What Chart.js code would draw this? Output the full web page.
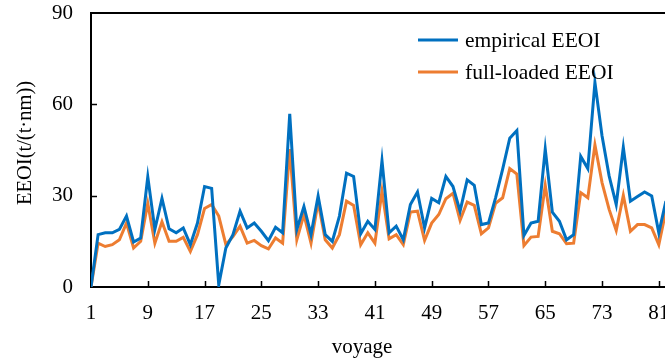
<!DOCTYPE html>
<html>
<head>
<meta charset="utf-8">
<script src="https://cdn.jsdelivr.net/npm/chart.js@4"></script>
<style>
  html, body { margin: 0; padding: 0; background: #fff; overflow: hidden; }
  #wrap { position: absolute; left: 0; top: 0; width: 680px; height: 363px; }
</style>
</head>
<body>
<div id="wrap"><canvas id="eeoiChart"></canvas></div>
<script>
const voyages = Array.from({ length: 82 }, (_, i) => i + 1);
const xTicks = [1, 9, 17, 25, 33, 41, 49, 57, 65, 73, 81];
const yTicks = [0, 30, 60, 90];

const empirical = [
  0, 17.2, 17.8, 17.8, 18.9, 23.3, 14.8, 16.1, 36.2, 18.9,
  29.1, 19.1, 17.8, 19.4, 13.9, 21, 33, 32.4, 0.7, 12.8,
  17.2, 24.9, 19.4, 21, 18.3, 15.2, 19.6, 17.8, 56.9, 18.9,
  26.4, 17.2, 29.9, 17.2, 15, 23.3, 37.4, 36.3, 17.5, 21.6,
  18.9, 41.5, 17.8, 20, 15.5, 27.1, 31.2, 19.4, 29.1, 27.7,
  36.3, 33, 24.9, 35.2, 33.4, 20.5, 21, 29.3, 38.7, 48.9,
  51.4, 16.9, 21, 21.6, 45.3, 24.6, 21.6, 15.5, 17.2, 42.9,
  38.9, 67.2, 49.7, 36.5, 27.1, 45.9, 28.2, 29.7, 31.2, 29.9,
  17.8, 28.2
];
const fullLoaded = [
  0, 14.4, 13.3, 13.9, 15.5, 21, 12.8, 15, 27.5, 14.4,
  21.4, 15, 15, 16.3, 11.7, 17.2, 25.8, 27.1, 23.3, 13.9,
  16.6, 20, 14.4, 15.3, 13.6, 12.5, 16.1, 14.4, 45.3, 15.5,
  23.8, 14.4, 27.9, 15.5, 12.8, 17.2, 28.2, 26.8, 13.9, 17.8,
  14.4, 31.5, 15.8, 17.2, 13.9, 24.6, 24.9, 15.3, 21, 23.8,
  29, 30.8, 21.9, 27.9, 26.8, 17.5, 19.4, 27.5, 29.3, 38.9,
  37.1, 13.6, 16.4, 16.6, 33.4, 18.3, 17.5, 14.2, 14.4, 31,
  29.3, 46.7, 34.3, 25.5, 18.6, 30.1, 18.3, 20.5, 20.5, 19.4,
  13.9, 25
];

const FONT = "'Liberation Serif', 'Times New Roman', serif";
const BLUE = "#0070C0";
const ORANGE = "#ED7D31";

// inward ticks, top border, legend and axis titles
const decor = {
  id: "decor",
  afterDraw(chart) {
    const c = chart.ctx;
    const a = chart.chartArea;
    const x = chart.scales.x, y = chart.scales.y;
    c.save();
    c.strokeStyle = "#000";
    c.lineWidth = 2;
    c.beginPath();
    c.moveTo(a.left - 1, a.top);
    c.lineTo(chart.width, a.top);
    c.stroke();

    c.lineWidth = 1.5;
    c.beginPath();
    yTicks.slice(1, -1).forEach(v => {
      const py = Math.round(y.getPixelForValue(v)) + 0.5;
      c.moveTo(a.left, py);
      c.lineTo(a.left + 6, py);
    });
    xTicks.slice(1).forEach(v => {
      const px = Math.round(x.getPixelForValue(v)) + 0.5;
      c.moveTo(px, a.bottom);
      c.lineTo(px, a.bottom - 6);
    });
    c.stroke();

    // legend
    c.font = "21.5px " + FONT;
    c.textBaseline = "middle";
    c.fillStyle = "#000";
    chart.data.datasets.forEach((ds, i) => {
      const ly = 40 + i * 32;
      c.strokeStyle = ds.borderColor;
      c.lineWidth = 3;
      c.beginPath();
      c.moveTo(418, ly);
      c.lineTo(458, ly);
      c.stroke();
      c.fillText(ds.label, 465, ly + 1);
    });

    // axis titles
    c.textAlign = "center";
    c.font = "21px " + FONT;
    c.fillText("voyage", 362, 347);
    c.font = "20.5px " + FONT;
    c.translate(26, 143);
    c.rotate(-Math.PI / 2);
    c.fillText("EEOI(t/(t\u00b7nm))", 0, 0);
    c.restore();
  }
};

new Chart(document.getElementById("eeoiChart"), {
  type: "line",
  data: {
    labels: voyages,
    datasets: [
      {
        label: "empirical EEOI",
        data: voyages.map((v, i) => ({ x: v, y: empirical[i] })),
        borderColor: BLUE,
        borderWidth: 3,
        pointRadius: 0,
        tension: 0
      },
      {
        label: "full-loaded EEOI",
        data: voyages.map((v, i) => ({ x: v, y: fullLoaded[i] })),
        borderColor: ORANGE,
        borderWidth: 3,
        pointRadius: 0,
        tension: 0
      }
    ]
  },
  options: {
    responsive: true,
    maintainAspectRatio: false,
    animation: false,
    layout: { padding: { top: 13, right: 7, left: 0, bottom: 0 } },
    plugins: { legend: { display: false }, tooltip: { enabled: false } },
    scales: {
      x: {
        type: "linear",
        min: 1,
        max: 83,
        afterBuildTicks: s => { s.ticks = xTicks.map(v => ({ value: v })); },
        afterFit: s => { s.height = 76; s.paddingLeft = 0; s.paddingRight = 0; },
        grid: { display: false, drawTicks: false },
        border: { color: "#000", width: 2 },
        ticks: { color: "#000", padding: 14, maxRotation: 0, autoSkip: false, font: { family: FONT, size: 21 } }
      },
      y: {
        min: 0,
        max: 90,
        afterBuildTicks: s => { s.ticks = yTicks.map(v => ({ value: v })); },
        afterFit: s => { s.width = 91; s.paddingTop = 0; s.paddingBottom = 0; },
        grid: { display: false, drawTicks: false },
        border: { color: "#000", width: 2 },
        ticks: { color: "#000", padding: 18, font: { family: FONT, size: 21 } }
      }
    }
  },
  plugins: [decor]
});
</script>
</body>
</html>
